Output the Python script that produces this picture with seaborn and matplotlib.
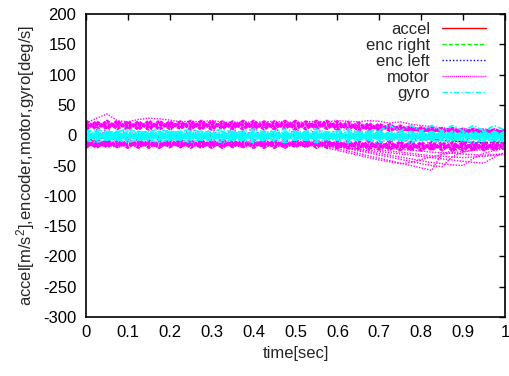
import numpy as np
import pandas as pd
import matplotlib
matplotlib.use("Agg")
import matplotlib.pyplot as plt
from matplotlib.lines import Line2D
import seaborn as sns

# Sample times [sec]
time = [0.0, 0.025, 0.05, 0.075, 0.1, 0.125, 0.15, 0.175, 0.2, 0.225,
        0.25, 0.275, 0.3, 0.325, 0.35, 0.375, 0.4, 0.425, 0.45, 0.475,
        0.5, 0.525, 0.55, 0.575, 0.6, 0.625, 0.65, 0.675, 0.7, 0.725,
        0.75, 0.775, 0.8, 0.825, 0.85, 0.875, 0.9, 0.925, 0.95, 0.975, 1.0]

# Acceleration [m/s^2], one list per trial
accel = [
    [0, -15, -8, -5, -3, -4, -2, -3, -2, -3,
     -2, -3, -2, -2, -3, -2, -2, -3, -2, -2,
     -2, -3, -2, -2, -1, -2, -1, -2, -1, -1,
     -1, -2, -1, -1, 0, -1, 0, 1, 2, 2, 2],
    [-2, -6, -4, -3, -2, -2, -3, -1, -2, -2,
     -1, -2, -2, -1, -2, -1, -2, -1, -1, -2,
     -1, -1, -2, -1, -1, -1, 0, -1, 0, -1,
     0, 0, -1, 0, 0, 1, 0, 1, 1, 1, 1],
]

# Encoder rates [deg/s]
enc_right = [
    [0, 2, 1, -1, 2, 0, -2, 1, 2, -1,
     0, 2, -1, 1, 0, -2, 1, 2, 0, -1,
     1, 0, 2, -1, 0, 1, -2, 0, 1, -1,
     0, -2, -4, -6, -8, -9, -10, -12, -11, -12, -11],
]
enc_left = [
    [0, -1, 1, 2, -1, 1, 0, -2, 1, 0,
     2, -1, 1, 0, -1, 2, 0, -1, 1, 2,
     0, -1, 1, 0, -1, 2, 0, -1, 0, 1,
     -1, -3, -5, -7, -8, -10, -11, -12, -13, -12, -13],
]

# Motor commands: trials that stay inside the main band
motor_band = [
    [23, 10, 23, 11, 22, 10, 23, 10, 22, 11,
     23, 10, 23, 11, 22, 10, 23, 10, 22, 11,
     23, 10, 23, 11, 22, 10, 20, 9, 18, 8,
     15, 7, 12, 6, 11, 5, 10, 5, 9, 4, 8],
    [10, 22, 11, 23, 10, 22, 10, 23, 11, 22,
     10, 23, 10, 22, 11, 23, 10, 22, 11, 23,
     10, 22, 11, 23, 10, 21, 9, 19, 8, 17,
     7, 14, 6, 12, 5, 11, 4, 10, 4, 9, 3],
    [16, 17, 16, 17, 16, 17, 16, 17, 16, 17,
     16, 17, 16, 17, 16, 17, 16, 17, 16, 17,
     16, 17, 16, 17, 16, 15, 14, 13, 13, 12,
     11, 10, 9, 8, 8, 7, 7, 6, 6, 6, 5],
    [-8, -20, -9, -19, -8, -20, -9, -20, -8, -19,
     -9, -20, -8, -20, -9, -19, -8, -20, -9, -20,
     -8, -19, -9, -20, -10, -21, -10, -22, -11, -23,
     -11, -24, -12, -24, -12, -25, -12, -24, -12, -24, -12],
    [-20, -8, -19, -9, -20, -8, -20, -9, -19, -8,
     -20, -9, -20, -8, -19, -9, -20, -8, -20, -9,
     -19, -8, -20, -9, -21, -10, -22, -10, -23, -11,
     -24, -11, -25, -12, -24, -12, -25, -12, -24, -12, -23],
    [-14, -15, -14, -15, -14, -15, -14, -15, -14, -15,
     -14, -15, -14, -15, -14, -15, -14, -15, -14, -15,
     -14, -15, -14, -15, -15, -16, -16, -17, -17, -18,
     -18, -18, -19, -18, -19, -18, -19, -18, -19, -18, -18],
]

# Motor commands: trials that leave the band
motor_wide = [
    [20, 28, 35, 24, 22, 26, 28, 27, 25, 22,
     23, 22, 24, 22, 21, 22, 21, 22, 23, 22,
     21, 22, 23, 22, 24, 23, 22, 24, 23, 20,
     22, 18, 16, 14, 12, 10, 9, 8, 8, 7, 6],
    [15, -12, 14, -10, 16, -13, 15, -11, 14, -12,
     16, -10, 15, -13, 14, -11, 16, -12, 15, -10,
     14, -13, 16, -11, 15, -12, 14, -14, 12, -16,
     10, -20, 8, -24, 6, -28, 5, -25, 4, -20, 3],
    [-12, -16, -13, -17, -12, -16, -13, -17, -12, -16,
     -13, -17, -12, -16, -13, -17, -12, -16, -13, -17,
     -12, -16, -14, -18, -22, -26, -30, -34, -38, -42,
     -46, -50, -54, -58, -30, -26, -22, -20, -18, -16, -14],
    [-16, -12, -17, -13, -16, -12, -17, -13, -16, -12,
     -17, -13, -16, -12, -17, -13, -16, -12, -17, -13,
     -16, -12, -12, -15, -19, -22, -26, -29, -33, -36,
     -40, -43, -47, -50, -52, -35, -28, -24, -20, -18, -16],
    [-14, -18, -13, -17, -14, -18, -13, -17, -14, -18,
     -13, -17, -14, -18, -13, -17, -14, -18, -13, -17,
     -14, -18, -13, -16, -18, -21, -24, -27, -30, -33,
     -36, -39, -42, -45, -47, -49, -50, -38, -30, -25, -22],
    [-18, -14, -17, -13, -18, -14, -17, -13, -18, -14,
     -17, -13, -18, -14, -17, -13, -18, -14, -17, -13,
     -18, -14, -15, -17, -19, -21, -23, -25, -27, -29,
     -31, -33, -35, -37, -39, -41, -43, -45, -46, -36, -28],
    [-13, -17, -14, -18, -13, -17, -14, -18, -13, -17,
     -14, -18, -13, -17, -14, -18, -13, -17, -14, -18,
     -13, -17, -12, -14, -16, -18, -20, -22, -24, -26,
     -28, -30, -32, -34, -35, -36, -37, -36, -35, -33, -32],
    [-17, -13, -18, -14, -17, -13, -18, -14, -17, -13,
     -18, -14, -17, -13, -18, -14, -17, -13, -18, -14,
     -17, -13, -10, -12, -13, -15, -17, -18, -20, -22,
     -23, -25, -26, -28, -29, -30, -31, -32, -33, -32, -30],
    [-15, -19, -16, -20, -15, -19, -16, -20, -15, -19,
     -16, -20, -15, -19, -16, -20, -15, -19, -16, -20,
     -15, -19, -16, -21, -25, -29, -33, -37, -41, -44,
     -47, -45, -40, -36, -32, -29, -27, -25, -24, -22, -21],
]

# Gyro rate [deg/s]: trials inside the central band
gyro_band = [
    [4, -6, 4, -6, 4, -6, 4, -6, 4, -6,
     4, -6, 4, -6, 4, -6, 4, -6, 4, -6,
     4, -6, 4, -6, 4, -6, 4, -6, 4, -6,
     4, -6, 4, -6, 4, -6, 4, -6, 4, -6, 4],
    [-6, 4, -6, 4, -6, 4, -6, 4, -6, 4,
     -6, 4, -6, 4, -6, 4, -6, 4, -6, 4,
     -6, 4, -6, 4, -6, 4, -6, 4, -6, 4,
     -6, 4, -6, 4, -6, 4, -6, 4, -6, 4, -6],
    [-1, -2, -1, -2, -1, -2, -1, -2, -1, -2,
     -1, -2, -1, -2, -1, -2, -1, -2, -1, -2,
     -1, -2, -1, -2, -1, -2, -1, -2, -1, -2,
     -1, -2, -1, -2, -1, -2, -1, -2, -1, -2, -1],
]

# Gyro rate [deg/s]: trials along the band edges
gyro_edge = [
    [6, 10, 5, 6, 10, 5, 6, 10, 5, 6,
     10, 5, 6, 10, 5, 6, 10, 5, 6, 10,
     5, 6, 10, 5, 6, 10, 5, 6, 8, 16,
     7, 16, 7, 16, 7, 16, 7, 16, 7, 16, 8],
    [-8, -12, -7, -8, -12, -7, -8, -12, -7, -8,
     -12, -7, -8, -12, -7, -8, -12, -7, -8, -12,
     -7, -8, -12, -7, -8, -12, -7, -8, -12, -7,
     -8, -12, -7, -8, -12, -7, -8, -12, -7, -8, -10],
]

xticks = [0, 0.1, 0.2, 0.3, 0.4, 0.5, 0.6, 0.7, 0.8, 0.9, 1]
yticks = [-300, -250, -200, -150, -100, -50, 0, 50, 100, 150, 200]


def to_long(trials):
    rows = []
    for k, vals in enumerate(trials):
        for t, v in zip(time, vals):
            rows.append((k, t, v))
    return pd.DataFrame(rows, columns=["trial", "time", "value"])


sns.set_theme(style="white")
plt.rcParams["font.family"] = ["Liberation Sans", "DejaVu Sans"]
plt.rcParams["mathtext.fontset"] = "custom"
plt.rcParams["mathtext.rm"] = "Liberation Sans"
plt.rcParams["mathtext.it"] = "Liberation Sans"
plt.rcParams["lines.scale_dashes"] = False

fig = plt.figure(figsize=(5.10, 3.76), dpi=100)
ax = fig.add_axes([86 / 510, 1 - 317 / 376, (505 - 86) / 510, (317 - 14) / 376])

RED, GREEN, BLUE, MAGENTA, CYAN = "#ff0000", "#00ff00", "#0000ff", "#ff00ff", "#00ffff"

# trials, colour, dash style, width
groups = [
    (accel, RED, "-", 1.0),
    (enc_right, GREEN, (0, (3, 1.5)), 1.0),
    (enc_left, BLUE, (0, (1, 1.5)), 1.0),
    (motor_wide, MAGENTA, (0, (1, 1)), 1.0),
    (motor_band, MAGENTA, (0, (2.5, 0.6)), 2.4),
    (gyro_edge, CYAN, (0, (4, 1.5, 1, 1.5)), 1.3),
    (gyro_band, CYAN, (0, (5, 0.5, 1.5, 0.5)), 3.4),
]

for trials, color, ls, lw in groups:
    sns.lineplot(data=to_long(trials), x="time", y="value", units="trial",
                 estimator=None, color=color, linestyle=ls, linewidth=lw,
                 ax=ax, legend=False)

labels = ["accel", "enc right", "enc left", "motor", "gyro"]
handles = [
    Line2D([], [], color=RED, linestyle="-", linewidth=1.0),
    Line2D([], [], color=GREEN, linestyle=(0, (3, 1.5)), linewidth=1.0),
    Line2D([], [], color=BLUE, linestyle=(0, (1, 1.5)), linewidth=1.0),
    Line2D([], [], color=MAGENTA, linestyle=(0, (0.8, 0.6)), linewidth=1.0),
    Line2D([], [], color=CYAN, linestyle=(0, (4, 1.5, 1, 1.5)), linewidth=1.0),
]

ax.set_xlim(0, 1)
ax.set_ylim(-300, 200)
ax.set_xticks(xticks)
ax.set_xticklabels(["%g" % v for v in xticks])
ax.set_yticks(yticks)
ax.set_yticklabels(["%g" % v for v in yticks])
ax.tick_params(direction="in", length=4, width=1, top=True, right=True,
               labelsize=12, colors="black", pad=6)
ax.tick_params(axis="y", pad=7)
for s in ax.spines.values():
    s.set_color("black")
    s.set_linewidth(1.2)

ax.set_xlabel("time[sec]", fontsize=12, labelpad=4)
ax.set_ylabel(r"accel[m/s$^2$],encoder,motor,gyro[deg/s]", fontsize=12, labelpad=4)

ax.legend(handles, labels, loc="upper right", bbox_to_anchor=(0.9706, 0.995),
          markerfirst=False, frameon=False, fontsize=12,
          handlelength=2.65, handletextpad=0.7, labelspacing=0.05,
          borderpad=0.4, borderaxespad=0.0)

fig.savefig("out.png", dpi=100)
